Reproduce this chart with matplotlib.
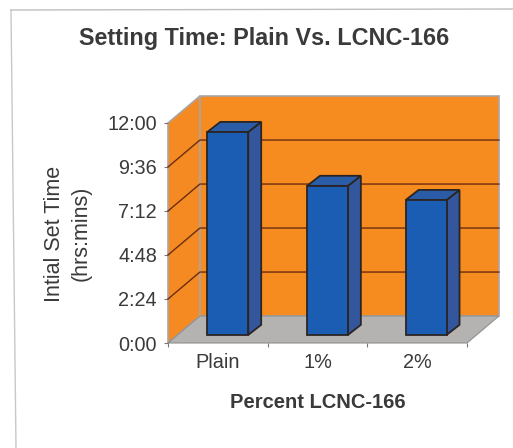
import matplotlib
matplotlib.use('Agg')
import matplotlib.pyplot as plt
from matplotlib.lines import Line2D
from matplotlib.patches import Polygon

plt.rcParams['font.family'] = ['Liberation Sans', 'DejaVu Sans']

# Datos
categorias = ['Plain', '1%', '2%']
tiempos_horas = [11.07, 8.13, 7.36]
posiciones_barras = [0.6, 1.6, 2.59]
ticks_horas = [0, 2.4, 4.8, 7.2, 9.6, 12]
etiquetas_y = ['0:00', '2:24', '4:48', '7:12', '9:36', '12:00']

ANCHO, ALTO = 513, 448
# Profundidad del falso 3D, en unidades de datos
prof_x = 0.32
prof_y = 1.47
ancho_barra = 0.41
base_barra = 0.44
barra_dx = 0.13
barra_dy = 0.55

naranja = '#F68B1F'
naranja_lateral = '#F58A22'
gris_piso = '#B4B3B2'
azul = '#1B5DB2'
azul_lateral = '#34569C'
azul_techo = '#2B5CA8'
borde = '#2A2522'
texto = '#3A3A3A'

fig = plt.figure(figsize=(ANCHO / 100, ALTO / 100), dpi=100, facecolor='white')
ax = fig.add_axes([168 / ANCHO, (ALTO - 343) / ALTO, 299 / ANCHO, 220 / ALTO])
ax.set_xlim(0, 3)
ax.set_ylim(0, 12)
ax.patch.set_alpha(0)
for spine in ax.spines.values():
    spine.set_visible(False)


def poligono(puntos, color, ec, lw=0.8, z=1):
    ax.add_patch(Polygon(puntos, closed=True, facecolor=color, edgecolor=ec,
                         linewidth=lw, zorder=z, clip_on=False))


# Paredes y piso
poligono([(prof_x, prof_y), (3 + prof_x, prof_y), (3 + prof_x, 12 + prof_y), (prof_x, 12 + prof_y)],
         naranja, '#A9A5A8', lw=1.2)
poligono([(0, 0), (prof_x, prof_y), (prof_x, 12 + prof_y), (0, 12)], naranja_lateral, '#A9A5A8', lw=1.2)
poligono([(0, 0), (3, 0), (3 + prof_x, prof_y), (prof_x, prof_y)], gris_piso, '#8F8F8F')

# Lineas de grilla en las dos paredes
for t in ticks_horas[1:-1]:
    ax.plot([0, prof_x, 3 + prof_x], [t, t + prof_y, t + prof_y], color='#6B2E10', lw=1,
            zorder=2, clip_on=False)

# Barras
ax.bar(posiciones_barras, tiempos_horas, width=ancho_barra, bottom=base_barra, color=azul,
       edgecolor=borde, linewidth=1.3, zorder=5)
for x, valor in zip(posiciones_barras, tiempos_horas):
    der = x + ancho_barra / 2
    izq = x - ancho_barra / 2
    arriba = base_barra + valor
    poligono([(der, base_barra), (der + barra_dx, base_barra + barra_dy),
              (der + barra_dx, arriba + barra_dy), (der, arriba)], azul_lateral, borde, lw=1.3, z=4)
    poligono([(izq, arriba), (der, arriba), (der + barra_dx, arriba + barra_dy),
              (izq + barra_dx, arriba + barra_dy)], azul_techo, borde, lw=1.3, z=4)

# Ejes
ax.set_yticks(ticks_horas)
ax.set_yticklabels(etiquetas_y, fontsize=14.3, color=texto)
ax.tick_params(axis='y', length=3, width=0.8, color='#777777', pad=5)
ax.set_xticks([0, 1, 2, 3])
ax.set_xticklabels([])
ax.tick_params(axis='x', which='major', length=3, width=0.8, color='#777777')
ax.set_xticks([0.5, 1.5, 2.5], minor=True)
ax.set_xticklabels(categorias, minor=True, fontsize=14.3, color=texto)
ax.tick_params(axis='x', which='minor', length=0, pad=7)


def texto_px(x, y, s, **kw):
    fig.text(x / ANCHO, 1 - y / ALTO, s, ha='center', va='center', color=texto, **kw)


texto_px(264.5, 38.5, 'Setting Time: Plain Vs. LCNC-166', fontsize=16.8, fontweight='bold')
texto_px(318, 402, 'Percent LCNC-166', fontsize=14.5, fontweight='bold')
texto_px(54, 234, 'Intial Set Time', fontsize=15.5, rotation=90)
texto_px(81, 233, '(hrs:mins)', fontsize=15.5, rotation=90)

# Marco gris del recorte escaneado
fig.add_artist(Line2D([11 / ANCHO, 16 / ANCHO], [1 - 10 / ALTO, 0], color='#C8C8C8', lw=1))
fig.add_artist(Line2D([11 / ANCHO, 1], [1 - 10 / ALTO, 1 - 9 / ALTO], color='#BEBEBE', lw=1))

fig.savefig('out.png', dpi=100)
